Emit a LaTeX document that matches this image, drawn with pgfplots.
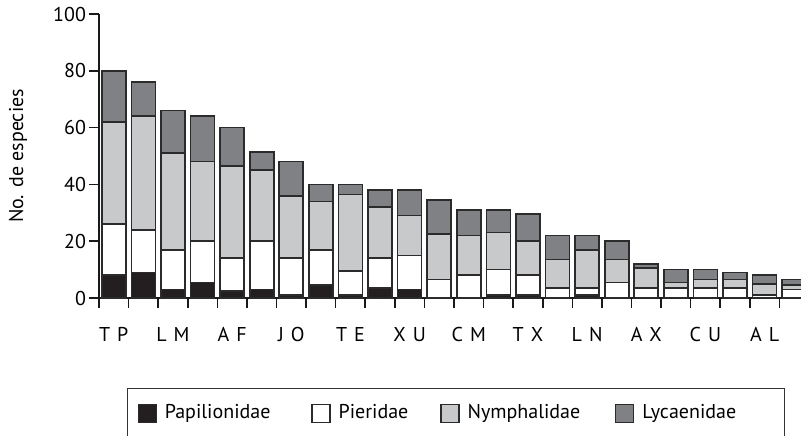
\documentclass[border=0pt]{standalone}
\usepackage{pgfplots}
\pgfplotsset{compat=1.18}
\usepackage{pgfplotstable}
\usepackage{fontspec}
\setmainfont{PT Sans}

\definecolor{papcol}{HTML}{231F20}
\definecolor{nymcol}{HTML}{C8C9CA}
\definecolor{lyccol}{HTML}{808184}
\definecolor{edge}{HTML}{2B2B2B}

% x, Papilionidae, Pieridae, Nymphalidae, Lycaenidae
\pgfplotstableread{
x  pap  pie   nym   lyc
0  8    18    36    18
1  9    15    40    12
2  3    14    34    15
3  5.5  14.5  28    16
4  2.5  11.5  32.5  13.5
5  3    17    25    6.5
6  1    13    22    12
7  4.5  12.5  17    6
8  1    8.5   27    3.5
9  3.5  10.5  18    6
10 3    12    14    9
11 0    6.5   16    12
12 0    8     14    9
13 1    9     13    8
14 1    7     12    9.5
15 0    3.5   10    8.5
16 1    2.5   13.5  5
17 0    5.5   8     6.5
18 0    3.5   7     1.5
19 0    3.5   2     4.5
20 0    3.5   3     3.5
21 0    3.5   3     2.5
22 0    1     4     3
23 0    3     1.5   2
}\datatable

\newcommand\lab[2]{#1\hspace{0.35em}#2}

\begin{document}
\begin{tikzpicture}
\begin{axis}[
  name=ax,
  at={(0pt,0pt)}, anchor=south west,
  scale only axis,
  width=351pt, height=142pt,
  ybar stacked,
  bar width=12pt,
  xmin=-0.5, xmax=23.23,
  ymin=0, ymax=100,
  axis x line*=bottom, axis y line*=left,
  axis line style={-, line width=0.8pt, black!90},
  tick style={line width=0.8pt, black!90},
  tick align=outside,
  major tick length=5pt,
  minor tick length=5pt,
  ytick={0,20,...,100},
  xtick={0,2,...,22},
  xticklabels={\lab TP, \lab LM, \lab AF, \lab JO, \lab TE, \lab XU, \lab CM, \lab TX, \lab LN, \lab AX, \lab CU, \lab AL},
  major x tick style={draw=none},
  minor xtick={-0.5,0.5,...,23.5},
  xticklabel style={yshift=-6pt},
  yticklabel style={xshift=2pt},
  /pgf/number format/assume math mode=true,
  ticklabel style={font=\fontsize{10}{12}\selectfont},
  ylabel={No. de especies},
  ylabel style={font=\fontsize{10}{12}\selectfont},
  every axis y label/.style={at={(axis description cs:-0.1154,0.5)}, rotate=90, anchor=center},
  legend columns=4,
  legend style={
    at={(axis description cs:0.0399,-0.317)}, anchor=north west,
    draw=black!80, line width=0.6pt,
    inner xsep=5pt, inner ysep=6pt,
    font=\fontsize{10}{12}\selectfont,
    /tikz/every odd column/.append style={column sep=2pt},
    /tikz/every even column/.append style={column sep=14pt},
  },
  legend image code/.code={\draw[#1,line width=0.6pt] (0pt,-4.5pt) rectangle (9pt,4.5pt);},
  every axis plot/.append style={draw=edge, line width=0.8pt},
]
\addplot[fill=papcol] table[x=x, y=pap] {\datatable};
\addplot[fill=white] table[x=x, y=pie] {\datatable};
\addplot[fill=nymcol] table[x=x, y=nym] {\datatable};
\addplot[fill=lyccol] table[x=x, y=lyc] {\datatable};
\legend{Papilionidae\rule{4.5pt}{0pt}, Pieridae, Nymphalidae\rule{1.5pt}{0pt}, Lycaenidae\rule{17pt}{0pt}}
\end{axis}
\pgfresetboundingbox
\path[use as bounding box] ([xshift=-49.5pt,yshift=-68.5pt]ax.south west) rectangle ([yshift=7pt]ax.north east);
\end{tikzpicture}
\end{document}
